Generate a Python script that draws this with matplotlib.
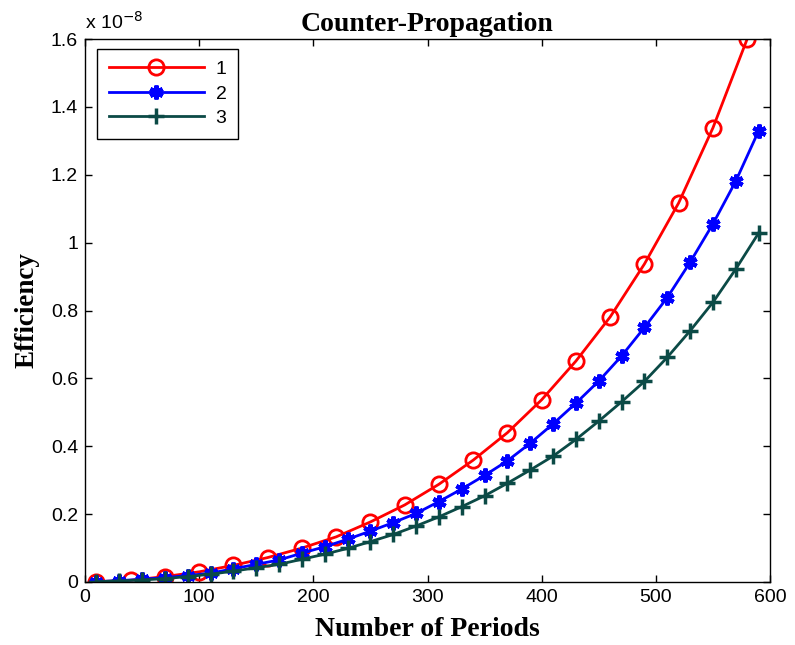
import numpy as np
import matplotlib
matplotlib.use("Agg")
import matplotlib.pyplot as plt

# periods for each series
x1 = [10, 40, 70, 100, 130, 160, 190, 220, 250, 280, 310, 340, 370, 400,
      430, 460, 490, 520, 550, 580]
x23 = [10, 30, 50, 70, 90, 110, 130, 150, 170, 190, 210, 230, 250, 270, 290,
       310, 330, 350, 370, 390, 410, 430, 450, 470, 490, 510, 530, 550, 570, 590]

# efficiency values in units of 1e-8
y1 = [0.001, 0.005, 0.016, 0.030, 0.049, 0.072, 0.100, 0.133, 0.177, 0.227,
      0.288, 0.359, 0.440, 0.537, 0.651, 0.781, 0.937, 1.117, 1.338, 1.600]
y2 = [0.001, 0.004, 0.008, 0.013, 0.019, 0.026, 0.039, 0.052, 0.065, 0.085,
      0.104, 0.126, 0.150, 0.175, 0.202, 0.237, 0.274, 0.314, 0.357, 0.409,
      0.466, 0.527, 0.592, 0.666, 0.750, 0.838, 0.942, 1.055, 1.181, 1.329]
y3 = [0.001, 0.003, 0.006, 0.010, 0.016, 0.023, 0.032, 0.042, 0.052, 0.067,
      0.082, 0.099, 0.119, 0.140, 0.165, 0.192, 0.222, 0.254, 0.291, 0.330,
      0.371, 0.420, 0.474, 0.531, 0.591, 0.662, 0.740, 0.824, 0.922, 1.028]

sans = "Liberation Sans"
serif = "Liberation Serif"

fig = plt.figure(figsize=(7.95, 6.45), dpi=100)
ax = fig.add_axes([85 / 795, 63 / 645, 685 / 795, 543 / 645])

ax.plot(x1, y1, color="red", lw=2.0, marker="o", ms=11, mfc="none",
        mec="red", mew=2.0, label="1")
ax.plot(x23, y2, color="blue", lw=2.0, marker=(6, 2, 0), ms=10,
        mec="blue", mew=3, label="2")
ax.plot(x23, y3, color="#0b4a46", lw=2.0, marker="+", ms=12,
        mec="#0b4a46", mew=2.5, label="3")

ax.set_xlim(0, 600)
ax.set_ylim(0, 1.6)
ax.set_xticks(np.arange(0, 601, 100))
ax.set_yticks(np.arange(0, 1.61, 0.2))
ax.set_yticklabels(["0", "0.2", "0.4", "0.6", "0.8", "1", "1.2", "1.4", "1.6"])
ax.tick_params(direction="in", top=True, right=True, length=5, width=1,
               labelsize=14, pad=5)
for lab in ax.get_xticklabels() + ax.get_yticklabels():
    lab.set_fontfamily(sans)
for s in ax.spines.values():
    s.set_linewidth(1)

ax.set_title("Counter-Propagation", fontfamily=serif, fontweight="bold",
             fontsize=20, pad=6)
ax.set_xlabel("Number of Periods", fontfamily=serif, fontweight="bold",
              fontsize=20, labelpad=8)
ax.set_ylabel("Efficiency", fontfamily=serif, fontweight="bold",
              fontsize=19.5, labelpad=8)
ax.text(0, 1.012, "x 10$^{-8}$", transform=ax.transAxes, fontfamily=sans,
        fontsize=14, ha="left", va="bottom")

leg = ax.legend(loc="upper left", prop={"family": sans, "size": 14},
                fancybox=False, edgecolor="black", framealpha=1,
                handlelength=4.9, handletextpad=0.6, borderpad=0.6,
                labelspacing=0.35, borderaxespad=0,
                bbox_to_anchor=(12 / 685, 1 - 10 / 543))
leg.get_frame().set_linewidth(1)

fig.savefig("out.png", dpi=100)
